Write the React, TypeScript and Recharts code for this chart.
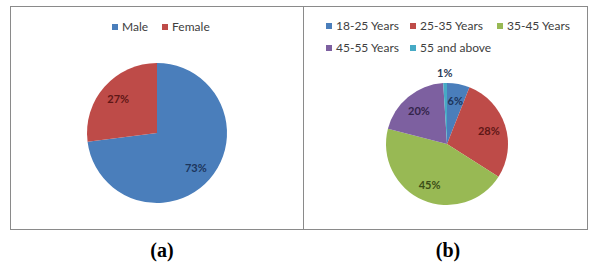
import { Cell, Pie, PieChart } from "recharts";

const genderNames = ["Male", "Female"];
const genderValues = [73, 27];
const genderColors = ["#4A7EBB", "#BE4B48"];
const genderLabelColors = ["#1C355C", "#5E1716"];

const ageNames = ["18-25 Years", "25-35 Years", "35-45 Years", "45-55 Years", "55 and above"];
const ageValues = [6, 28, 45, 20, 1];
const ageColors = ["#4A7EBB", "#BE4B48", "#98B954", "#7D60A0", "#46AAC5"];
const ageLabelColors = ["#1C355C", "#5E1716", "#3B4E17", "#33244A", "#2A3A55"];

const font = "Lato, 'Open Sans', sans-serif";
const RAD = Math.PI / 180;

// etiquetas dentro del sector; las muy pequeñas van fuera
function makeLabel(colors: string[], frac: number) {
  return (p: any) => {
    const small = p.percent < 0.03;
    const r = small ? p.outerRadius + 11 : p.outerRadius * frac;
    const x = p.cx + r * Math.cos(-p.midAngle * RAD);
    const y = p.cy + r * Math.sin(-p.midAngle * RAD);
    return (
      <text
        x={x}
        y={y}
        fill={colors[p.index]}
        textAnchor="middle"
        dominantBaseline="central"
        fontSize={11}
        fontWeight={700}
        fontFamily={font}
      >
        {`${Math.round(p.percent * 100)}%`}
      </text>
    );
  };
}

function Swatch({ color }: { color: string }) {
  return (
    <span
      style={{ display: "inline-block", width: 6, height: 6, background: color, marginRight: 4 }}
    />
  );
}

const panel = {
  position: "absolute",
  top: 6,
  height: 224,
  border: "1.5px solid #8a8a8a",
  background: "#fff",
  boxSizing: "border-box",
} as const;

const caption = {
  position: "absolute",
  top: 238,
  width: 60,
  textAlign: "center",
  fontFamily: "'Liberation Serif', 'Times New Roman', serif",
  fontWeight: 700,
  fontSize: 20,
  lineHeight: "24px",
} as const;

export default function App() {
  const gender = genderNames.map((name, i) => ({ name, value: genderValues[i] }));
  const age = ageNames.map((name, i) => ({ name, value: ageValues[i] }));
  const colLeft = [0, 84, 171];

  return (
    <div style={{ position: "absolute", left: 0, top: 0, width: 591, height: 265, background: "#fff" }}>
      {/* (a) sexo */}
      <div style={{ ...panel, left: 10, width: 295 }}>
        <div
          style={{
            position: "absolute",
            top: 12,
            left: 101,
            fontFamily: font,
            fontSize: 12,
            color: "#404040",
            whiteSpace: "nowrap",
            display: "flex",
            alignItems: "center",
          }}
        >
          {genderNames.map((n, i) => (
            <span key={n} style={{ display: "flex", alignItems: "center", marginRight: 14 }}>
              <Swatch color={genderColors[i]} />
              {n}
            </span>
          ))}
        </div>
        <div style={{ position: "absolute", left: 0, top: 0 }}>
          <PieChart width={292} height={221} margin={{ top: 0, right: 0, bottom: 0, left: 0 }}>
            <Pie
              data={gender}
              dataKey="value"
              nameKey="name"
              cx={146}
              cy={126}
              outerRadius={70}
              startAngle={90}
              endAngle={-270}
              stroke="none"
              labelLine={false}
              label={makeLabel(genderLabelColors, 0.74)}
              isAnimationActive={false}
            >
              {gender.map((d, i) => (
                <Cell key={d.name} fill={genderColors[i]} />
              ))}
            </Pie>
          </PieChart>
        </div>
      </div>

      {/* (b) edad */}
      <div style={{ ...panel, left: 303, width: 285 }}>
        <div
          style={{
            position: "absolute",
            top: 11,
            left: 22,
            width: 260,
            height: 50,
            fontFamily: font,
            fontSize: 12,
            color: "#404040",
          }}
        >
          {ageNames.map((n, i) => (
            <span
              key={n}
              style={{
                position: "absolute",
                left: colLeft[i % 3],
                top: Math.floor(i / 3) * 22,
                display: "flex",
                alignItems: "center",
                whiteSpace: "nowrap",
              }}
            >
              <Swatch color={ageColors[i]} />
              {n}
            </span>
          ))}
        </div>
        <div style={{ position: "absolute", left: 0, top: 0 }}>
          <PieChart width={282} height={221} margin={{ top: 0, right: 0, bottom: 0, left: 0 }}>
            <Pie
              data={age}
              dataKey="value"
              nameKey="name"
              cx={143}
              cy={137}
              outerRadius={61}
              startAngle={90}
              endAngle={-270}
              stroke="none"
              labelLine={false}
              label={makeLabel(ageLabelColors, 0.72)}
              isAnimationActive={false}
            >
              {age.map((d, i) => (
                <Cell key={d.name} fill={ageColors[i]} />
              ))}
            </Pie>
          </PieChart>
        </div>
      </div>

      <div style={{ ...caption, left: 132 }}>(a)</div>
      <div style={{ ...caption, left: 418 }}>(b)</div>
    </div>
  );
}
